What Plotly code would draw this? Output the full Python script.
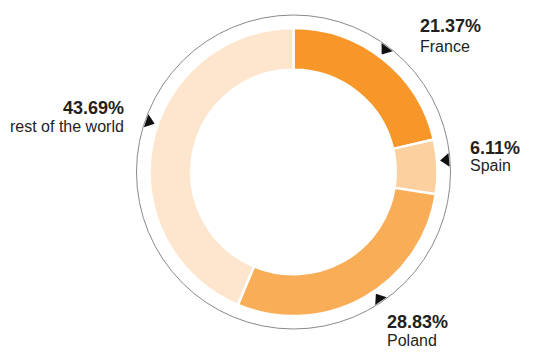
import math
import plotly.graph_objects as go

# Share of the total by country (percent), clockwise from 12 o'clock
countries = ["France", "Spain", "Poland", "rest of the world"]
shares = [21.37, 6.11, 28.83, 43.69]

# Styling
slice_colors = ["#F7972A", "#FDD19F", "#F9AD57", "#FDE6CD"]
text_color = "#231F20"
font_family = "Liberation Sans, Arial, sans-serif"

W, H = 534, 360
CX, CY = 293.5, 172.0      # centre of the ring (px)
R_PIE = 144.0              # outer radius of the ring (px)
R_RING = 157.0             # thin guide circle (px)
R_POINTER = 153.0          # where the pointer triangles sit (px)

# Pointer nudges (degrees) relative to each slice's middle angle
pointer_nudge = {"France": -1.6, "Spain": -2.4, "Poland": -4.9, "rest of the world": 7.8}

# Label placement: x anchor (px), centre of bold line, centre of name line, alignment
label_layout = {
    "France": (418, 25.6, 46.9, "left"),
    "Spain": (468, 148.3, 165.0, "left"),
    "Poland": (385, 321.7, 340.8, "left"),
    "rest of the world": (126, 107.5, 126.7, "right"),
}

fig = go.Figure()

# Donut
fig.add_trace(go.Pie(
    labels=countries,
    values=shares,
    sort=False,
    direction="clockwise",
    rotation=0,
    hole=0.71,
    marker=dict(colors=slice_colors, line=dict(color="white", width=2.5)),
    textinfo="none",
    hoverinfo="skip",
    showlegend=False,
    domain=dict(
        x=[(CX - R_PIE) / W, (CX + R_PIE) / W],
        y=[(H - CY - R_PIE) / H, (H - CY + R_PIE) / H],
    ),
))

# Pointer triangles at (roughly) each slice's middle, pointing to the centre
total = sum(shares)
px, py, pang = [], [], []
cum = 0.0
for name, v in zip(countries, shares):
    mid = (cum + v / 2) / total * 360 + pointer_nudge[name]
    cum += v
    t = math.radians(mid)
    px.append(CX + R_POINTER * math.sin(t))
    py.append(CY - R_POINTER * math.cos(t))
    pang.append(mid + 180)

fig.add_trace(go.Scatter(
    x=px, y=py, mode="markers",
    marker=dict(symbol="triangle-up", size=12, color="#111111", angle=pang,
                line=dict(width=0)),
    hoverinfo="skip", showlegend=False,
))

# Thin guide circle around the ring
fig.add_shape(
    type="circle", xref="x", yref="y",
    x0=CX - R_RING, x1=CX + R_RING, y0=CY - R_RING, y1=CY + R_RING,
    line=dict(color="#8A8A8A", width=1), layer="below",
)

# Value and name labels
for name, v in zip(countries, shares):
    lx, yb, yn, align = label_layout[name]
    fig.add_annotation(
        x=lx, y=yb, xref="x", yref="y", xanchor=align, yanchor="middle",
        text=f"<b>{v:.2f}%</b>", showarrow=False, align=align,
        font=dict(family=font_family, size=18, color=text_color),
    )
    fig.add_annotation(
        x=lx, y=yn, xref="x", yref="y", xanchor=align, yanchor="middle",
        text=name, showarrow=False, align=align,
        font=dict(family=font_family, size=16, color=text_color),
    )

fig.update_layout(
    width=W, height=H,
    margin=dict(l=0, r=0, t=0, b=0),
    paper_bgcolor="white", plot_bgcolor="rgba(0,0,0,0)",
    xaxis=dict(range=[0, W], visible=False, fixedrange=True, domain=[0, 1]),
    yaxis=dict(range=[H, 0], visible=False, fixedrange=True, domain=[0, 1]),
)

fig.write_html("out.html", config={"displayModeBar": False})
